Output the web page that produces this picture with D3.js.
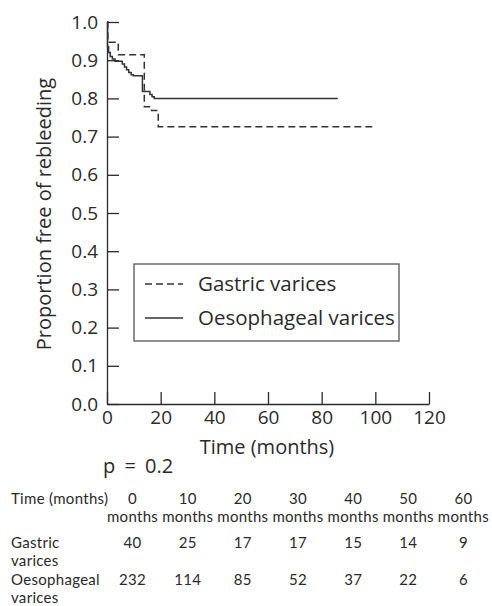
<!DOCTYPE html>
<html>
<head>
<meta charset="utf-8">
<script src="https://cdn.jsdelivr.net/npm/d3@7"></script>
<style>
  body { margin: 0; background: #fff; }
  svg { display: block; }
  text { font-family: "Open Sans", sans-serif; fill: #2a2a2a; }
  .tbl text { font-family: Lato, "Open Sans", sans-serif; letter-spacing: 0.3px; }
</style>
</head>
<body>
<svg id="chart" width="492" height="606"></svg>
<script>
// ---- data ----
const xTicks = [0, 20, 40, 60, 80, 100, 120];
const yTicks = [0, 0.1, 0.2, 0.3, 0.4, 0.5, 0.6, 0.7, 0.8, 0.9, 1.0];

const gastricTime = [0, 0.3, 4.2, 13.9, 16.6, 19.1, 100];
const gastricSurv = [1.0, 0.947, 0.914, 0.778, 0.768, 0.726, 0.726];

const oesoTime = [0, 0.2, 0.6, 1.2, 2.0, 3.0, 5.7, 6.5, 7.3, 8.1, 9.0, 9.8, 13.2, 16.0, 16.8, 17.6, 86];
const oesoSurv = [1.0, 0.935, 0.92, 0.91, 0.903, 0.897, 0.89, 0.882, 0.875, 0.868, 0.862, 0.859, 0.818, 0.810, 0.804, 0.800, 0.800];

const seriesNames = ["Gastric varices", "Oesophageal varices"];
const pText = "p = 0.2";

const tableTimes = ["0", "10", "20", "30", "40", "50", "60"];
const tableRowLabels = [["Gastric", "varices"], ["Oesophageal", "varices"]];
const gastricAtRisk = [40, 25, 17, 17, 15, 14, 9];
const oesoAtRisk = [232, 114, 85, 52, 37, 22, 6];

// ---- layout ----
const svg = d3.select("#chart");
const ink = "#2a2a2a";

const x = d3.scaleLinear().domain([0, 120]).range([107, 429]);
const y = d3.scaleLinear().domain([0, 1]).range([404, 22]);

// axes
const yAxis = d3.axisLeft(y).tickValues(yTicks).tickFormat(d3.format(".1f"))
  .tickSizeInner(-12).tickSizeOuter(0).tickPadding(9);
const gy = svg.append("g").attr("transform", `translate(${x(0)},0)`).call(yAxis);
gy.selectAll("text").style("font-size", "19px").attr("fill", ink);
gy.selectAll("line,path").attr("stroke", ink).attr("stroke-width", 1.3);

const xAxis = d3.axisBottom(x).tickValues(xTicks)
  .tickSizeInner(-12).tickSizeOuter(0).tickPadding(7);
const gx = svg.append("g").attr("transform", `translate(0,${y(0)})`).call(xAxis);
gx.selectAll("text").style("font-size", "19px").attr("fill", ink);
gx.selectAll("line,path").attr("stroke", ink).attr("stroke-width", 1.3);

// axis titles
svg.append("text").attr("x", 267).attr("y", 454).attr("text-anchor", "middle")
  .style("font-size", "20px").text("Time (months)");
svg.append("text").attr("transform", "translate(51,214) rotate(-90)")
  .attr("text-anchor", "middle").style("font-size", "20px").text("Proportion free of rebleeding");

// curves
const line = d3.line().x(d => x(d[0])).y(d => y(d[1])).curve(d3.curveStepAfter);
const gData = gastricTime.map((t, i) => [t, gastricSurv[i]]);
const oData = oesoTime.map((t, i) => [t, oesoSurv[i]]);

svg.append("path").datum(gData).attr("d", line).attr("fill", "none")
  .attr("stroke", "#333").attr("stroke-width", 1.5).attr("stroke-dasharray", "7,4");
svg.append("path").datum(oData).attr("d", line).attr("fill", "none")
  .attr("stroke", "#333").attr("stroke-width", 1.5);

// legend
const lg = svg.append("g");
lg.append("rect").attr("x", 134).attr("y", 264).attr("width", 265).attr("height", 77)
  .attr("fill", "#fff").attr("stroke", "#555").attr("stroke-width", 1.3);
const legendStyles = ["7,4", null];
seriesNames.forEach((name, i) => {
  const yy = 284 + i * 34;
  lg.append("line").attr("x1", 145).attr("x2", 183).attr("y1", yy).attr("y2", yy)
    .attr("stroke", "#333").attr("stroke-width", 1.5)
    .attr("stroke-dasharray", legendStyles[i]);
  lg.append("text").attr("x", 198).attr("y", yy + 7).style("font-size", "20.5px").text(name);
});

// p value
svg.append("text").attr("x", 103).attr("y", 473).style("font-size", "20px")
  .style("word-spacing", "4px").text(pText);

// at-risk table
const col = d3.scaleBand().domain(tableTimes).range([105, 491]);
const tbl = svg.append("g").attr("class", "tbl").style("font-size", "15px");
tbl.append("text").attr("x", 11).attr("y", 504).text("Time (months)");
tableTimes.forEach(t => {
  const cx = col(t) + col.bandwidth() / 2;
  tbl.append("text").attr("x", cx).attr("y", 504).attr("text-anchor", "middle").text(t);
  tbl.append("text").attr("x", cx).attr("y", 522).attr("text-anchor", "middle").text("months");
});
const rows = [gastricAtRisk, oesoAtRisk];
const rowY = [548, 585];
rows.forEach((vals, r) => {
  tbl.append("text").attr("x", 11).attr("y", rowY[r]).text(tableRowLabels[r][0]);
  tbl.append("text").attr("x", 11).attr("y", rowY[r] + 18).text(tableRowLabels[r][1]);
  vals.forEach((v, i) => {
    const cx = col(tableTimes[i]) + col.bandwidth() / 2;
    tbl.append("text").attr("x", cx).attr("y", rowY[r]).attr("text-anchor", "middle").text(v);
  });
});
</script>
</body>
</html>
